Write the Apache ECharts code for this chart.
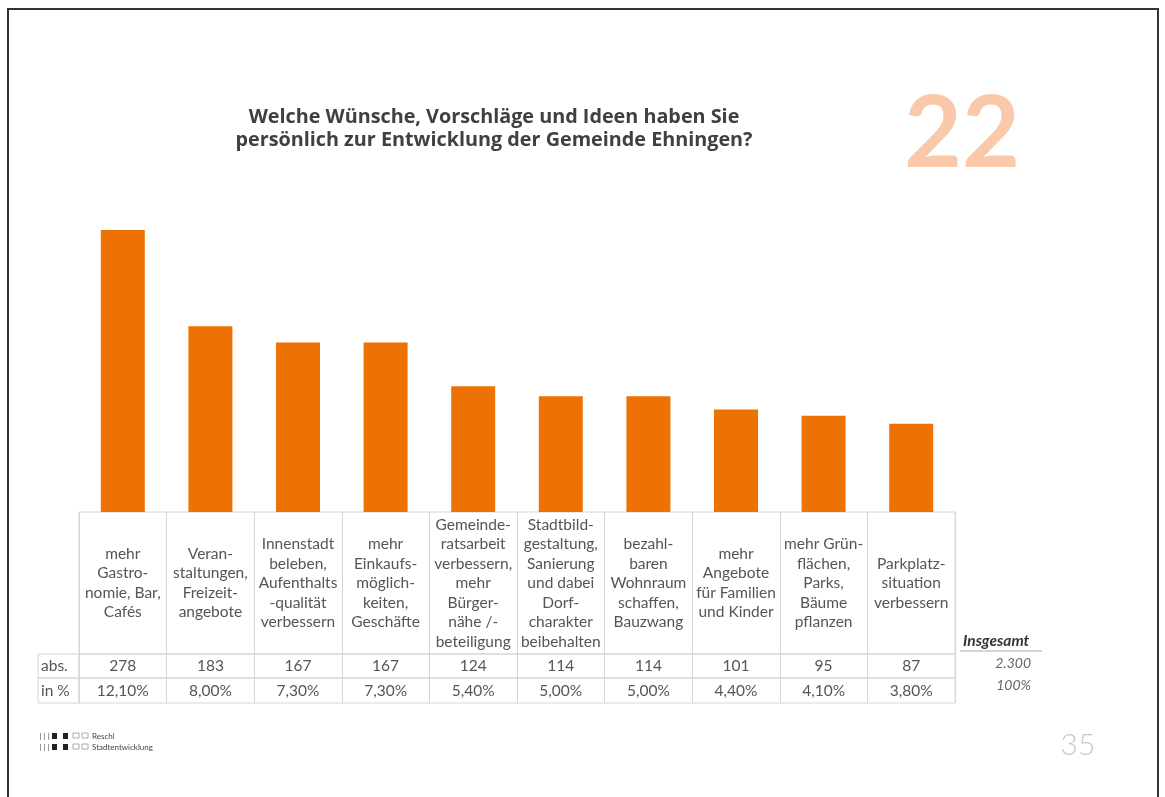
<!DOCTYPE html>
<html>
<head>
<meta charset="utf-8">
<script src="https://cdn.jsdelivr.net/npm/echarts@6/dist/echarts.min.js"></script>
<style>
html,body{margin:0;padding:0;background:#fff;}
#c{width:1165px;height:797px;}
</style>
</head>
<body>
<div id="c"></div>
<script>
const categories = [
  "mehr\nGastro-\nnomie, Bar,\nCafés",
  "Veran-\nstaltungen,\nFreizeit-\nangebote",
  "Innenstadt\nbeleben,\nAufenthalts\n-qualität\nverbessern",
  "mehr\nEinkaufs-\nmöglich-\nkeiten,\nGeschäfte",
  "Gemeinde-\nratsarbeit\nverbessern,\nmehr\nBürger-\nnähe /-\nbeteiligung",
  "Stadtbild-\ngestaltung,\nSanierung\nund dabei\nDorf-\ncharakter\nbeibehalten",
  "bezahl-\nbaren\nWohnraum\nschaffen,\nBauzwang",
  "mehr\nAngebote\nfür Familien\nund Kinder",
  "mehr Grün-\nflächen,\nParks,\nBäume\npflanzen",
  "Parkplatz-\nsituation\nverbessern"
];
const absValues = [278, 183, 167, 167, 124, 114, 114, 101, 95, 87];
const pctValues = [12.10, 8.00, 7.30, 7.30, 5.40, 5.00, 5.00, 4.40, 4.10, 3.80];
const rowLabels = ["abs.", "in %"];
const totalLabel = "Insgesamt";
const totalAbs = "2.300";
const totalPct = "100%";
const titleText = "Welche Wünsche, Vorschläge und Ideen haben Sie\npersönlich zur Entwicklung der Gemeinde Ehningen?";
const pageBadge = "22";
const pageNumber = "35";

const FONT = "Lato";
const lineColor = "#d6d6d6";
const textColor = "#555555";
const fmtPct = v => v.toFixed(2).replace('.', ',') + '%';

const chart = echarts.init(document.getElementById('c'), null, {renderer: 'canvas'});

const L = 79, R = 1165 - 955;
function rowGrid(top, height) {
  return {left: L, right: R, top: top, height: height, show: true, borderColor: lineColor, borderWidth: 1, containLabel: false};
}
function tableXAxis(gi, data, margin, fontSize, lineHeight) {
  return {
    type: 'category', gridIndex: gi, data: data, position: 'bottom',
    axisLine: {show: false}, axisTick: {show: false},
    splitLine: {show: true, interval: 0, lineStyle: {color: lineColor, width: 1}},
    axisLabel: {interval: 0, margin: margin, verticalAlign: 'middle', align: 'center',
      color: textColor, fontFamily: FONT, fontSize: fontSize, lineHeight: lineHeight}
  };
}
function hiddenValueY(gi) {
  return {type: 'value', gridIndex: gi, show: false, min: 0, max: 1};
}

const option = {
  backgroundColor: '#ffffff',
  animation: false,
  title: {
    text: titleText,
    left: 489, top: 101, textAlign: 'center',
    textStyle: {fontFamily: 'Open Sans', fontWeight: 'bold', fontSize: 19.8, color: '#404040', lineHeight: 23}
  },
  grid: [
    {left: L, right: R, top: 230, bottom: 797 - 512},   // bars
    rowGrid(512, 142),                                  // header row
    rowGrid(654, 24),                                   // abs row
    rowGrid(678, 25),                                   // pct row
    {left: 38, width: 41, top: 654, height: 24, show: true, borderColor: lineColor, borderWidth: 1},
    {left: 38, width: 41, top: 678, height: 25, show: true, borderColor: lineColor, borderWidth: 1}
  ],
  xAxis: [
    {type: 'category', gridIndex: 0, data: categories, show: false},
    tableXAxis(1, categories, -71, 15.5, 19.5),
    tableXAxis(2, absValues.map(String), -12, 15.5, 18),
    tableXAxis(3, pctValues.map(fmtPct), -12.5, 15.5, 18),
    {type: 'value', gridIndex: 4, show: false},
    {type: 'value', gridIndex: 5, show: false}
  ],
  yAxis: [
    {type: 'value', gridIndex: 0, min: 0, max: 278, show: false},
    hiddenValueY(1), hiddenValueY(2), hiddenValueY(3),
    {type: 'category', gridIndex: 4, data: [rowLabels[0]], axisLine: {show: false}, axisTick: {show: false},
      axisLabel: {inside: true, margin: 3, color: textColor, fontFamily: FONT, fontSize: 15.5}},
    {type: 'category', gridIndex: 5, data: [rowLabels[1]], axisLine: {show: false}, axisTick: {show: false},
      axisLabel: {inside: true, margin: 3, color: textColor, fontFamily: FONT, fontSize: 15.5}}
  ],
  series: [
    {type: 'bar', xAxisIndex: 0, yAxisIndex: 0, data: absValues, barWidth: 44,
      itemStyle: {color: '#ee7203'}, silent: true}
  ],
  graphic: [
    {type: 'rect', shape: {x: 8, y: 9, width: 1150, height: 800}, style: {fill: 'none', stroke: '#333', lineWidth: 2}, silent: true},
    {type: 'text', x: 962, y: 135, style: {text: pageBadge, font: 'bold 100px Lato', fill: '#f9c9a9', align: 'center', verticalAlign: 'middle'}},
    {type: 'text', x: 1078, y: 745, style: {text: pageNumber, font: '300 30px Lato', fill: '#c8c8c8', align: 'center', verticalAlign: 'middle'}},
    {type: 'text', x: 963, y: 641, style: {text: totalLabel, font: 'italic bold 15.5px Lato', fill: '#333', align: 'left', verticalAlign: 'middle'}},
    {type: 'line', shape: {x1: 960, y1: 651, x2: 1042, y2: 651}, style: {stroke: '#aaaaaa', lineWidth: 1}},
    {type: 'text', x: 1031, y: 663, style: {text: totalAbs, font: 'italic 14px Lato', fill: '#666', align: 'right', verticalAlign: 'middle'}},
    {type: 'text', x: 1031, y: 685, style: {text: totalPct, font: 'italic 14px Lato', fill: '#666', align: 'right', verticalAlign: 'middle'}},
    {type: 'group', x: 40, y: 733, children: [
      {type: 'rect', shape: {x: 0, y: 0, width: 1, height: 7}, style: {fill: '#999'}},
      {type: 'rect', shape: {x: 4, y: 0, width: 1, height: 7}, style: {fill: '#999'}},
      {type: 'rect', shape: {x: 8, y: 0, width: 1, height: 7}, style: {fill: '#999'}},
      {type: 'rect', shape: {x: 12, y: 0, width: 5, height: 6}, style: {fill: '#222'}},
      {type: 'rect', shape: {x: 23, y: 0, width: 5, height: 6}, style: {fill: '#222'}},
      {type: 'rect', shape: {x: 33, y: 0, width: 6, height: 5}, style: {fill: 'none', stroke: '#aaa', lineWidth: 1}},
      {type: 'rect', shape: {x: 42, y: 0, width: 6, height: 5}, style: {fill: 'none', stroke: '#aaa', lineWidth: 1}},
      {type: 'text', x: 52, y: 3, style: {text: 'Reschl', font: '8px Lato', fill: '#444', verticalAlign: 'middle'}},
      {type: 'rect', shape: {x: 0, y: 11, width: 1, height: 7}, style: {fill: '#999'}},
      {type: 'rect', shape: {x: 4, y: 11, width: 1, height: 7}, style: {fill: '#999'}},
      {type: 'rect', shape: {x: 8, y: 11, width: 1, height: 7}, style: {fill: '#999'}},
      {type: 'rect', shape: {x: 12, y: 11, width: 5, height: 6}, style: {fill: '#222'}},
      {type: 'rect', shape: {x: 23, y: 11, width: 5, height: 6}, style: {fill: '#222'}},
      {type: 'rect', shape: {x: 33, y: 11, width: 6, height: 5}, style: {fill: 'none', stroke: '#aaa', lineWidth: 1}},
      {type: 'rect', shape: {x: 42, y: 11, width: 6, height: 5}, style: {fill: 'none', stroke: '#aaa', lineWidth: 1}},
      {type: 'text', x: 52, y: 14, style: {text: 'Stadtentwicklung', font: '8px Lato', fill: '#444', verticalAlign: 'middle'}}
    ]}
  ]
};
chart.setOption(option);
</script>
</body>
</html>
